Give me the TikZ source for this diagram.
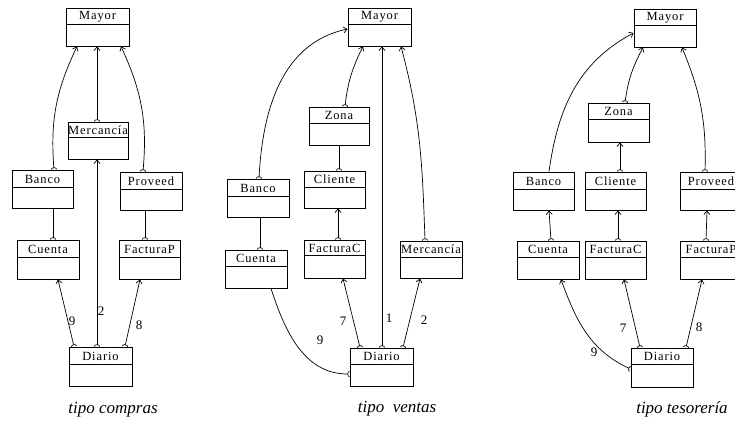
\documentclass[tikz,border=0pt]{standalone}
\usepackage{fontspec}
\setmainfont{Liberation Serif}
\newfontfamily\boxfont[LetterSpace=7]{Liberation Serif}
\usetikzlibrary{arrows.meta,fit}
\tikzset{
  ua/.tip={Straight Barb[length=3.5pt,width=6pt,line width=0.7pt]},
  us/.tip={Arc Barb[reversed,length=2.2pt,width=6pt,line width=0.7pt]},
  cbox/.style={draw, line width=1pt, inner sep=0pt},
  boxline/.style={line width=0.8pt},
  ctext/.style={inner sep=0pt, font=\boxfont\fontsize{12.5}{12.5}\selectfont},
  sa/.style={line width=0.7pt, arrows={us-ua}},
  s0/.style={line width=0.7pt, arrows={us-}},
  a0/.style={line width=0.7pt, arrows={-ua}},
  lbl/.style={inner sep=0pt, font=\fontsize{13}{13}\selectfont},
  ttl/.style={inner sep=0pt, font=\itshape\fontsize{17}{17}\selectfont},
}
\newcommand\umlcls[7]{%
  \node[cbox, fit={(#2,#3)(#4,#5)}] (#1) {};
  \draw[boxline] (#2,#6) -- (#4,#6);
  \node[ctext] (#1t) at ({(#2+#4)/2},{(#3+#6)/2+0.5}) {#7};}
\begin{document}
\begin{tikzpicture}[x=1pt,y=-1pt]
\useasboundingbox (0,0) rectangle (735,421);
% ---------- tipo compras ----------
\umlcls{M1}{66}{8}{129}{46}{24}{Mayor}
\umlcls{Me1}{68}{122}{128}{159}{137}{Mercancía}
\umlcls{B1}{12}{170}{73}{208}{187}{Banco}
\umlcls{P1}{120}{172}{182}{210}{189}{Proveed}
\umlcls{C1}{17}{240}{79}{279}{257}{Cuenta}
\umlcls{FP1}{119}{240}{180}{279}{257}{FacturaP}
\umlcls{D1}{69}{347}{132}{386}{364}{Diario}
\draw[sa] ([xshift=11.5pt]B1.north) to[bend left=15] ([xshift=-20.5pt]M1.south);
\draw[sa] ([xshift=-1pt]Me1.north) -- ([xshift=-0.5pt]M1.south);
\draw[sa] ([xshift=-8pt]P1.north) to[bend right=15] ([xshift=23.5pt]M1.south);
\draw[s0] ([xshift=5pt]C1.north) -- ([xshift=10.5pt]B1.south);
\draw[s0] ([xshift=-4.5pt]FP1.north) -- ([xshift=-6pt]P1.south);
\draw[sa] ([xshift=-26.5pt]D1.north) -- ([xshift=10pt]C1.south);
\draw[sa] ([xshift=-3.5pt]D1.north) -- ([xshift=-1pt]Me1.south);
\draw[sa] ([xshift=24.5pt]D1.north) -- ([xshift=-9.5pt]FP1.south);
\node[lbl] (n9a) at (72,321) {9};
\node[lbl] (n2a) at (101,311) {2};
\node[lbl] (n8a) at (139,325) {8};
\node[ttl] (t1) at (113,410) {tipo compras};
% ---------- tipo ventas ----------
\umlcls{M2}{348}{8}{411}{46}{24}{Mayor}
\umlcls{Z2}{309}{107}{369}{145}{123}{Zona}
\umlcls{Cl2}{304}{171}{365}{208}{187}{Cliente}
\umlcls{B2}{227}{179}{289}{217}{196}{Banco}
\umlcls{Cu2}{225}{250}{287}{288}{266}{Cuenta}
\umlcls{FC2}{304}{240}{365}{278}{255}{FacturaC}
\umlcls{Me2}{400}{241}{462}{278}{257}{Mercancía}
\umlcls{D2}{350}{348}{413}{386}{364}{Diario}
\draw[sa] ([xshift=1pt]B2.north) to[out=87,in=192] ([yshift=-2pt]M2.west);
\draw[sa] ([xshift=6pt]Z2.north) to[bend left=10] ([xshift=-16.5pt]M2.south);
\draw[s0] ([xshift=4.5pt]Cl2.north) -- (Z2.south);
\draw[sa] ([xshift=3.5pt]FC2.north) -- ([xshift=3.5pt]Cl2.south);
\draw[s0] ([xshift=4pt]Cu2.north) -- ([xshift=2pt]B2.south);
\draw[sa] ([xshift=0.5pt]D2.north) -- ([xshift=0.5pt]D2.north |- M2.south);
\draw[sa] ([xshift=-6pt]Me2.north) to[out=92,in=-75] ([xshift=21.5pt]M2.south);
\draw[sa] ([xshift=-21.5pt]D2.north) -- ([xshift=8.5pt]FC2.south);
\draw[sa] ([xshift=21.5pt]D2.north) -- ([xshift=-11pt]Me2.south);
\draw[s0] ([yshift=-7pt]D2.west) to[out=180,in=-72] ([xshift=15pt]Cu2.south);
\node[lbl] (n9b) at (320,340) {9};
\node[lbl] (n7b) at (343,321) {7};
\node[lbl] (n1b) at (389,318) {1};
\node[lbl] (n2b) at (424,320) {2};
\node[ttl] (t2) at (397,409) {tipo\enspace ventas};
% ---------- tipo tesorería ----------
\umlcls{M3}{634}{9}{696}{47}{25}{Mayor}
\umlcls{Z3}{588}{103}{649}{142}{119}{Zona}
\umlcls{B3}{513}{172}{574}{210}{189}{Banco}
\umlcls{Cl3}{585}{172}{646}{210}{189}{Cliente}
\umlcls{P3}{680}{172}{742}{210}{189}{Proveed}
\umlcls{Cu3}{517}{241}{579}{279}{257}{Cuenta}
\umlcls{FC3}{585}{241}{646}{279}{257}{FacturaC}
\umlcls{FP3}{680}{241}{742}{279}{257}{FacturaP}
\umlcls{D3}{631}{348}{693}{387}{364}{Diario}
\draw[a0] ([xshift=5.5pt]B3.north) to[out=82,in=208] ([yshift=-5pt]M3.west);
\draw[sa] ([xshift=6.5pt]Z3.north) to[bend left=10] ([xshift=-22pt]M3.south);
\draw[sa] ([xshift=-6pt]P3.north) to[bend right=12] ([xshift=17pt]M3.south);
\draw[sa] ([xshift=4.5pt]Cl3.north) -- ([xshift=1.5pt]Z3.south);
\draw[sa] ([xshift=3pt]Cu3.north) -- ([xshift=5.5pt]B3.south);
\draw[sa] ([xshift=2.5pt]FC3.north) -- ([xshift=2.5pt]Cl3.south);
\draw[sa] ([xshift=-5pt]FP3.north) -- ([xshift=-4pt]P3.south);
\draw[sa] ([yshift=-1.5pt]D3.west) to[out=155,in=-70] ([xshift=13pt]Cu3.south);
\draw[sa] ([xshift=-22pt]D3.north) -- ([xshift=8.5pt]FC3.south);
\draw[sa] ([xshift=24pt]D3.north) -- ([xshift=-9pt]FP3.south);
\node[lbl] (n9c) at (594,352) {9};
\node[lbl] (n7c) at (623,328) {7};
\node[lbl] (n8c) at (699,327) {8};
\node[ttl] (t3) at (682,409) {tipo tesorería};
\end{tikzpicture}
\end{document}
